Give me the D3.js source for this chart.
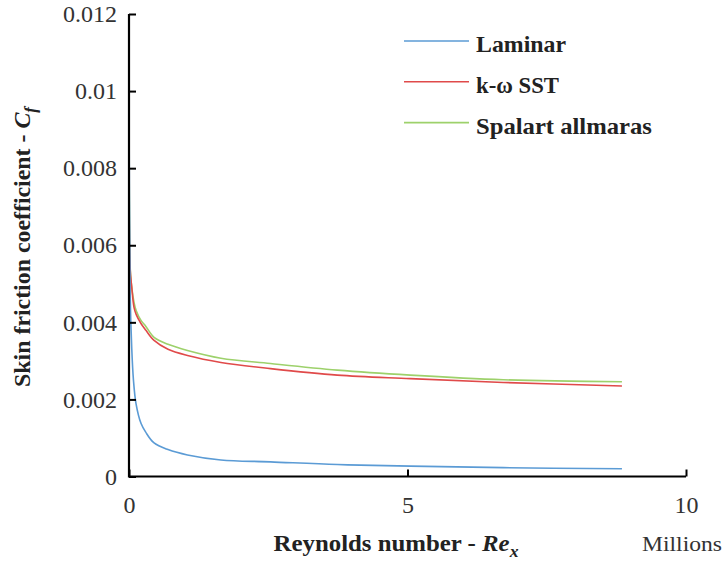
<!DOCTYPE html>
<html><head><meta charset="utf-8">
<script src="https://cdn.jsdelivr.net/npm/d3@7"></script>
<style>body{margin:0;background:#fff}svg{display:block}</style>
</head><body><svg id="c" width="725" height="563"></svg>
<script>
// Reynolds number (millions), skin friction coefficient
const laminarX = [0, 0.02, 0.05, 0.08, 0.125, 0.215, 0.3, 0.45, 0.7, 1.05, 1.65, 2.54, 3.74, 5.05, 6.72, 8.85];
const laminarY = [0.0101, 0.0048, 0.0033, 0.0025, 0.0019, 0.00138, 0.00115, 0.00087, 0.0007, 0.00056, 0.00043, 0.00038, 0.00031, 0.00027, 0.00023, 0.0002];
const sstX = [0, 0.02, 0.05, 0.09, 0.13, 0.215, 0.3, 0.45, 0.7, 1.05, 1.65, 2.54, 3.74, 5.05, 6.72, 8.85];
const sstY = [0.0101, 0.0054, 0.0049, 0.00439, 0.0042, 0.00397, 0.0038, 0.00353, 0.0033, 0.00314, 0.00296, 0.0028, 0.00263, 0.00254, 0.00244, 0.00235];
const saX = [0, 0.01, 0.03, 0.09, 0.13, 0.215, 0.3, 0.45, 0.7, 1.05, 1.65, 2.54, 3.74, 5.05, 6.72, 8.85];
const saY = [0.0101, 0.0062, 0.0052, 0.00452, 0.0043, 0.00405, 0.0039, 0.00361, 0.00343, 0.00327, 0.00307, 0.00293, 0.00276, 0.00263, 0.00251, 0.00246];
const seriesNames = ["Laminar", "k-\u03c9 SST", "Spalart allmaras"];
const seriesColors = ["#5b9bd5", "#e04a4a", "#9dd16b"];
const xTicks = [0, 5, 10];
const yTicks = [0, 0.002, 0.004, 0.006, 0.008, 0.01, 0.012];
const yTickLabels = ["0", "0.002", "0.004", "0.006", "0.008", "0.01", "0.012"];

const svg = d3.select("#c");
const x = d3.scaleLinear().domain([0, 10]).range([129, 686]);
const y = d3.scaleLinear().domain([0, 0.012]).range([476.5, 14]);
const FONT = '"Liberation Serif", "Times New Roman", Tinos, monospace';

function fitWidth(sel, target, cx, cy, rot) {
  const w = sel.node().getComputedTextLength();
  const s = target / w;
  sel.attr("x", 0).attr("y", 0)
    .attr("transform", `translate(${cx},${cy}) rotate(${rot}) scale(${s},1)`);
}

const data = [[laminarX, laminarY], [sstX, sstY], [saX, saY]];
const line = d3.line().x(d => x(d[0])).y(d => y(d[1])).curve(d3.curveCatmullRom.alpha(0.5));
[2, 1, 0].forEach(i => {
  const pts = data[i][0].map((v, j) => [v, data[i][1][j]]);
  svg.append("path").attr("d", line(pts)).attr("fill", "none")
    .attr("stroke", seriesColors[i]).attr("stroke-width", 1.6);
});

const yAxis = d3.axisLeft(y).tickValues(yTicks).tickFormat((d, i) => yTickLabels[i]).tickSize(-7).tickPadding(12);
const gy = svg.append("g").attr("transform", `translate(${x(0)},0)`).call(yAxis);
const xAxis = d3.axisBottom(x).tickValues(xTicks).tickFormat(d3.format("d")).tickSize(-7).tickPadding(15);
const gx = svg.append("g").attr("transform", `translate(0,${y(0)})`).call(xAxis);
[gx, gy].forEach(g => {
  g.attr("font-family", null);
  g.select(".domain").remove();
  g.selectAll(".tick line").attr("stroke", "#000").attr("stroke-width", 2);
  g.selectAll(".tick text").style("font-family", FONT).attr("font-size", 24).attr("fill", "#333");
});
gx.selectAll(".tick text").attr("dy", "0.9em");
svg.append("path").attr("d", `M${x(0)},${y(0.012)}V${y(0)}H${x(10)}`)
  .attr("fill", "none").attr("stroke", "#000").attr("stroke-width", 2.2);

const yl = svg.append("text").attr("text-anchor", "middle").style("font-family", FONT)
  .attr("font-size", 24).attr("font-weight", "bold").attr("fill", "#222");
yl.append("tspan").text("Skin friction coefficient - ");
yl.append("tspan").attr("font-style", "italic").text("C");
yl.append("tspan").attr("font-style", "italic").attr("font-size", 17).attr("dy", 6).text("f");
fitWidth(yl, 280, 30, 247, -90);

const xl = svg.append("text").attr("text-anchor", "middle").style("font-family", FONT)
  .attr("font-size", 24).attr("font-weight", "bold").attr("fill", "#222");
xl.append("tspan").text("Reynolds number - ");
xl.append("tspan").attr("font-style", "italic").text("Re");
xl.append("tspan").attr("font-style", "italic").attr("font-size", 17).attr("dy", 6).text("x");
fitWidth(xl, 245, 396, 551, 0);

const ml = svg.append("text").attr("text-anchor", "middle")
  .style("font-family", FONT).attr("font-size", 22).attr("fill", "#333").text("Millions");
fitWidth(ml, 80, 682, 551, 0);

const legendW = [90, 83, 176];
seriesNames.forEach((n, i) => {
  const ly = 41 + i * 40.8;
  svg.append("line").attr("x1", 404).attr("x2", 469).attr("y1", ly).attr("y2", ly)
    .attr("stroke", seriesColors[i]).attr("stroke-width", 1.6);
  const t = svg.append("text").attr("text-anchor", "start")
    .style("font-family", FONT).attr("font-size", 23).attr("font-weight", "bold").attr("fill", "#222").text(n);
  fitWidth(t, legendW[i], 476, ly + 11, 0);
});
</script></body></html>
